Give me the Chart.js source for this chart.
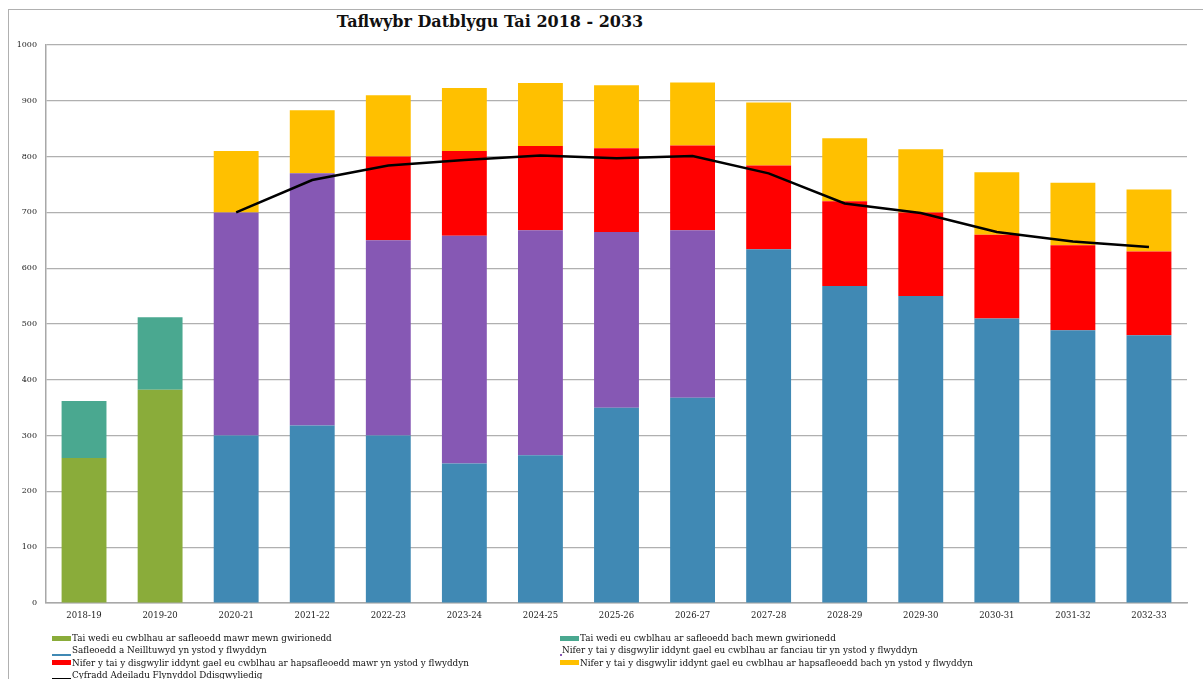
<!DOCTYPE html>
<html>
<head>
<meta charset="utf-8">
<script src="https://cdn.jsdelivr.net/npm/chart.js@4/dist/chart.umd.min.js"></script>
<style>
  body { margin: 0; background: #fff; }
  #wrap { position: relative; width: 1203px; height: 679px; overflow: hidden; font-family: "DejaVu Serif", serif; }
  #frame { position: absolute; left: 8px; top: 9px; width: 1210px; height: 700px; border: 1px solid #b0b0b0; box-sizing: border-box; }
  #title { position: absolute; left: 290px; width: 400px; top: 12px; text-align: center; font-weight: bold; font-size: 16px; color: #111; }
  #chart { position: absolute; left: 0; top: 0; }
  #legend { position: absolute; left: 52px; top: 632px; width: 1100px; display: grid; grid-template-columns: 508px 560px; row-gap: 0; font-size: 8.8px; color: #111; }
  .item { display: flex; align-items: center; height: 12.3px; white-space: nowrap; }
  .sw { display: inline-block; width: 19px; height: 5px; margin-right: 1px; }
  .ln { display: inline-block; width: 19px; height: 2px; margin-right: 1px; align-self: flex-end; margin-bottom: 1px; }
</style>
</head>
<body>
<div id="wrap">
  <div id="frame"></div>
  <div id="title">Taflwybr Datblygu Tai 2018 - 2033</div>
  <canvas id="chart" width="1203" height="679"></canvas>
  <div id="legend"></div>
</div>
<script>
const years = ['2018-19', '2019-20', '2020-21', '2021-22', '2022-23', '2023-24', '2024-25', '2025-26', '2026-27', '2027-28', '2028-29', '2029-30', '2030-31', '2031-32', '2032-33'];

const largeCompleted = [260, 382, null, null, null, null, null, null, null, null, null, null, null, null, null];
const smallCompleted = [102, 130, null, null, null, null, null, null, null, null, null, null, null, null, null];
const allocatedSites = [null, null, 300, 318, 300, 250, 265, 350, 368, 634, 568, 550, 510, 489, 480];
const landBanks = [null, null, 400, 452, 350, 408, 403, 315, 300, null, null, null, null, null, null];
const largeWindfall = [null, null, null, null, 150, 152, 151, 150, 152, 150, 152, 150, 150, 152, 150];
const smallWindfall = [null, null, 110, 113, 110, 113, 113, 113, 113, 113, 113, 113, 112, 112, 111];
const expectedRate = [null, null, 700, 758, 784, 794, 802, 797, 801, 770, 716, 699, 665, 648, 638];

const yTicks = [0, 100, 200, 300, 400, 500, 600, 700, 800, 900, 1000];

const labels = {
  largeCompleted: 'Tai wedi eu cwblhau ar safleoedd mawr mewn gwirionedd',
  smallCompleted: 'Tai wedi eu cwblhau ar safleoedd bach mewn gwirionedd',
  allocatedSites: 'Safleoedd a Neilltuwyd yn ystod y flwyddyn',
  landBanks: 'Nifer y tai y disgwylir iddynt gael eu cwblhau ar fanciau tir yn ystod y flwyddyn',
  largeWindfall: 'Nifer y tai y disgwylir iddynt gael eu cwblhau ar hapsafleoedd mawr yn ystod y flwyddyn',
  smallWindfall: 'Nifer y tai y disgwylir iddynt gael eu cwblhau ar hapsafleoedd bach yn ystod y flwyddyn',
  expectedRate: 'Cyfradd Adeiladu Flynyddol Ddisgwyliedig'
};

const bar = (label, data, color, legendStyle) => ({
  type: 'bar', label, data, backgroundColor: color, stack: 'houses', order: 1,
  categoryPercentage: 1, barPercentage: 0.59, legendStyle
});

const datasets = [
  bar(labels.largeCompleted, largeCompleted, '#8aac3a', 'box'),
  bar(labels.smallCompleted, smallCompleted, '#4aa890', 'box'),
  bar(labels.allocatedSites, allocatedSites, '#4089b4', 'line'),
  bar(labels.landBanks, landBanks, '#8658b4', 'tick'),
  bar(labels.largeWindfall, largeWindfall, '#ff0000', 'box'),
  bar(labels.smallWindfall, smallWindfall, '#ffc000', 'box'),
  {
    type: 'line', label: labels.expectedRate, data: expectedRate, borderColor: '#000', backgroundColor: '#000',
    borderWidth: 2.5, pointRadius: 0, tension: 0, stack: 'rate', order: 0, legendStyle: 'line'
  }
];

const chart = new Chart(document.getElementById('chart'), {
  data: { labels: years, datasets },
  options: {
    responsive: false,
    animation: false,
    devicePixelRatio: 1,
    layout: { padding: { left: 0, top: 45, right: 16, bottom: 52 } },
    plugins: { legend: { display: false }, tooltip: { enabled: false } },
    scales: {
      x: {
        stacked: true,
        grid: { display: false, drawTicks: false },
        border: { color: '#a8a8a8', width: 1.5 },
        ticks: { color: '#222', font: { family: 'DejaVu Serif', size: 8.5 }, padding: 8, maxRotation: 0, autoSkip: false },
        afterFit: s => { s.height = 24; }
      },
      y: {
        stacked: true,
        min: 0, max: 1000,
        afterBuildTicks: s => { s.ticks = yTicks.map(v => ({ value: v })); },
        grid: { color: '#b0b0b0', lineWidth: 1.2, drawTicks: false },
        border: { color: '#a8a8a8', width: 1.5 },
        ticks: { color: '#222', font: { family: 'DejaVu Serif', size: 8 }, padding: 9, callback: v => String(v) },
        afterFit: s => { s.width = 46; }
      }
    }
  }
});

// HTML legend in two columns, built from the chart datasets
const legendEl = document.getElementById('legend');
chart.data.datasets.forEach(ds => {
  const item = document.createElement('div');
  item.className = 'item';
  const sw = document.createElement('span');
  const color = ds.type === 'line' ? ds.borderColor : ds.backgroundColor;
  if (ds.legendStyle === 'box') {
    sw.className = 'sw';
  } else if (ds.legendStyle === 'tick') {
    sw.className = 'ln';
    sw.style.width = '2px';
    sw.style.marginRight = '0';
  } else {
    sw.className = 'ln';
  }
  sw.style.background = color;
  item.appendChild(sw);
  item.appendChild(document.createTextNode(ds.label));
  legendEl.appendChild(item);
});
</script>
</body>
</html>
